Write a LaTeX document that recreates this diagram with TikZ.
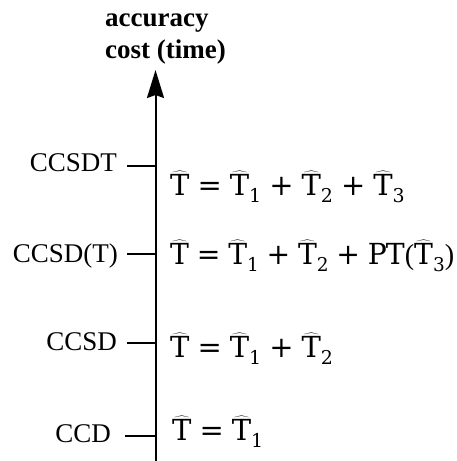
\documentclass[tikz,border=0pt]{standalone}
\usepackage{fontspec}
\usepackage{graphicx}
\setmainfont{Liberation Serif}
\newfontfamily\eqfont{DejaVu Serif}
\usetikzlibrary{arrows.meta}
\newcommand{\hT}{$\widehat{\hbox{T}}$}
\newcommand{\sbx}[1]{\raisebox{-7pt}{\fontsize{19}{20}\selectfont #1}}
\newcommand{\op}[1]{\hspace{8pt}#1\hspace{8pt}}
\begin{document}
\begin{tikzpicture}[x=1pt,y=-1pt,
  lbl/.style={anchor=base east,inner sep=0pt,font=\fontsize{27}{32}\selectfont},
  eqn/.style={anchor=base west,inner sep=0pt,font=\fontsize{29}{34}\selectfont\eqfont},
  ttl/.style={anchor=base west,inner sep=0pt,font=\fontsize{27}{32}\selectfont\bfseries},
  tick/.style={line width=2pt},
  axis/.style={line width=2pt,-{Stealth[length=28pt,width=17pt,inset=3pt]}}]
\useasboundingbox (0,0) rectangle (456,461);
% title
\node[ttl] (t1) at (105,26) {accuracy};
\node[ttl] (t2) at (105,58) {cost (time)};
% axis
\coordinate (bot) at (155.5,461);
\coordinate (top) at (155.5,70);
\draw[axis] (bot) -- (top);
% axis tick points
\coordinate (a1) at (155.5,166);
\coordinate (a2) at (155.5,254);
\coordinate (a3) at (155.5,343);
\coordinate (a4) at (155.5,436);
% labels
\node[lbl] (l1) at (117,171) {CCSDT};
\node[lbl] (l2) at (118,262) {CCSD(T)};
\node[lbl] (l3) at (117,350) {CCSD};
\node[lbl] (l4) at (111,442) {CCD};
\draw[tick] ([xshift=10pt]l1.east |- a1) -- (a1);
\draw[tick] ([xshift=9pt]l2.east |- a2) -- (a2);
\draw[tick] ([xshift=10pt]l3.east |- a3) -- (a3);
\draw[tick] ([xshift=14pt]l4.east |- a4) -- (a4);
% equations
\node[eqn] (e1) at (170,195) {\hT\op{=}\hT\sbx{1}\op{+}\hT\sbx{2}\op{+}\hT\sbx{3}};
\node[eqn] (e2) at (170,264) {\resizebox{284pt}{\height}{\hT\op{=}\hT\sbx{1}\op{+}\hT\sbx{2}\op{+}P\kern-1ptT{\rmfamily(}\hT\sbx{3}{\rmfamily)}}};
\node[eqn] (e3) at (170,357) {\hT\op{=}\hT\sbx{1}\op{+}\hT\sbx{2}};
\node[eqn] (e4) at (172,440) {\hT\op{=}\hT\sbx{1}};
\end{tikzpicture}
\end{document}
